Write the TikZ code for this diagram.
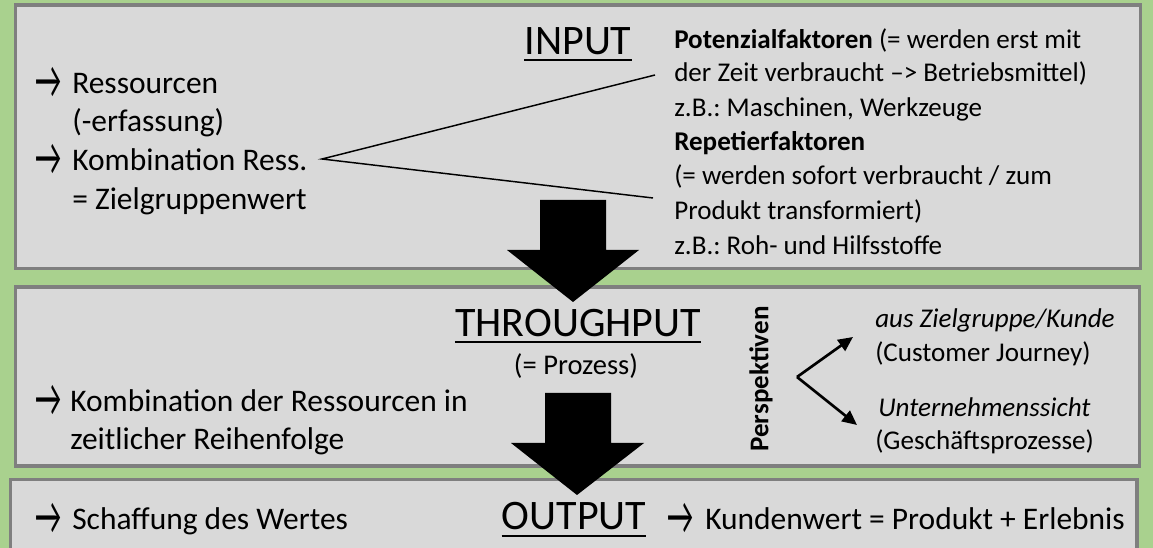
\documentclass[tikz,border=0pt]{standalone}
\usepackage{fontspec}
\setmainfont{Carlito}
\usetikzlibrary{arrows.meta}
\definecolor{bg}{HTML}{A9D18E}
\definecolor{boxfill}{HTML}{D9D9D9}
\definecolor{boxline}{HTML}{7F7F7F}
\newcommand{\bigarr}{\scalebox{0.9}[1.7]{→}}
\tikzset{
  panel/.style={draw=boxline, fill=boxfill, line width=2.3pt},
  big/.style={inner sep=0pt, anchor=base west, font=\fontsize{23.6}{28}\selectfont},
  arrowglyph/.style={inner sep=0pt, anchor=base west, font=\fontsize{24}{28}\selectfont},
  small/.style={inner sep=0pt, anchor=base west, font=\fontsize{20.3}{24}\selectfont},
  title/.style={inner sep=0pt, anchor=base, font=\fontsize{31.5}{36}\selectfont},
  uline/.style={line width=1.9pt},
  blockarrow/.style={fill=black},
  thin/.style={line width=1.1pt},
  persp/.style={line width=2pt, -{Triangle[length=11pt,width=10pt]}}
}
\begin{document}
\frenchspacing
\begin{tikzpicture}[x=0.75pt,y=-0.75pt]
\useasboundingbox (0,0) rectangle (1153,548);
\fill[bg] (0,0) rectangle (1153,548);

% panels
\draw[panel] (15.3,5) rectangle (1140.5,268.5);
\draw[panel] (15.3,287) rectangle (1139.5,466);
\draw[panel] (10.7,479.5) rectangle (1137,560);

% ---- INPUT panel
\node[arrowglyph] (a1) at (35,98.5) {\bigarr};
\node[big] (r1) at (72,94) {Ressourcen};
\node[big] (r2) at (72,132) {(-erfassung)};
\node[arrowglyph] (a2) at (35,175.5) {\bigarr};
\node[big] (r3) at (72,171) {Kombination Ress.};
\node[big] (r4) at (72,210) {= Zielgruppenwert};

\node[title] (input) at (578,55) {INPUT};
\draw[uline] ([yshift=-3.75pt]input.base west) -- ([yshift=-3.75pt]input.base east);

\node[small] (p1) at (674,49) {\bfseries Potenzialfaktoren\mdseries{} (= werden erst mit};
\node[small] (p2) at (674,82) {der Zeit verbraucht –> Betriebsmittel)};
\node[small] (p3) at (674,117) {z.B.: Maschinen, Werkzeuge};
\node[small] (p4) at (674,151) {\bfseries Repetierfaktoren};
\node[small] (p5) at (674,185) {(= werden sofort verbraucht / zum};
\node[small] (p6) at (674,220) {Produkt transformiert)};
\node[small] (p7) at (674,255) {z.B.: Roh- und Hilfsstoffe};

\coordinate (apex) at (322,159);
\coordinate (upend) at (655,75);
\coordinate (loend) at (653,198);
\draw[thin] (upend) -- (apex) -- (loend);

% ---- THROUGHPUT panel
\node[arrowglyph] (a3) at (35,416.5) {\bigarr};
\node[big] (k1) at (70,412) {Kombination der Ressourcen in};
\node[big] (k2) at (70,450) {zeitlicher Reihenfolge};

\node[title] (through) at (578,337) {THROUGHPUT};
\draw[uline] ([yshift=-3.75pt]through.base west) -- ([yshift=-3.75pt]through.base east);
\node[inner sep=0pt, anchor=base, font=\fontsize{21.4}{26}\selectfont] (proz) at (576,375) {(= Prozess)};

\node[inner sep=0pt, rotate=90, font=\fontsize{20.3}{24}\selectfont\bfseries] (persp) at (761,379) {Perspektiven};

\coordinate (papex) at (797,377);
\coordinate (pup) at (853,337);
\coordinate (plo) at (857,425);
\draw[persp] (papex) -- (pup);
\draw[persp] (papex) -- (plo);

\node[small] (z1) at (875,328) {\itshape aus Zielgruppe/Kunde};
\node[small] (z2) at (875,362) {(Customer Journey)};
\node[small] (u1) at (878,417) {\itshape Unternehmenssicht};
\node[small] (u2) at (875,450) {(Geschäftsprozesse)};

% ---- OUTPUT panel
\node[arrowglyph] (a4) at (35,534.5) {\bigarr};
\node[big] (s1) at (72,530) {Schaffung des Wertes};
\node[title] (output) at (574,530) {OUTPUT};
\draw[uline] ([yshift=-4.5pt]output.base west) -- ([yshift=-4.5pt]output.base east);
\node[arrowglyph] (a5) at (667,534.5) {\bigarr};
\node[big] (kw) at (705,530) {Kundenwert = Produkt + Erlebnis};

% block arrows
\fill[blockarrow] (540,200) -- (606,200) -- (606,250) -- (639,250) -- (573,302) -- (507,250) -- (540,250) -- cycle;
\fill[blockarrow] (545,393) -- (611,393) -- (611,443) -- (644,443) -- (577,495) -- (511,443) -- (545,443) -- cycle;
\end{tikzpicture}
\end{document}
